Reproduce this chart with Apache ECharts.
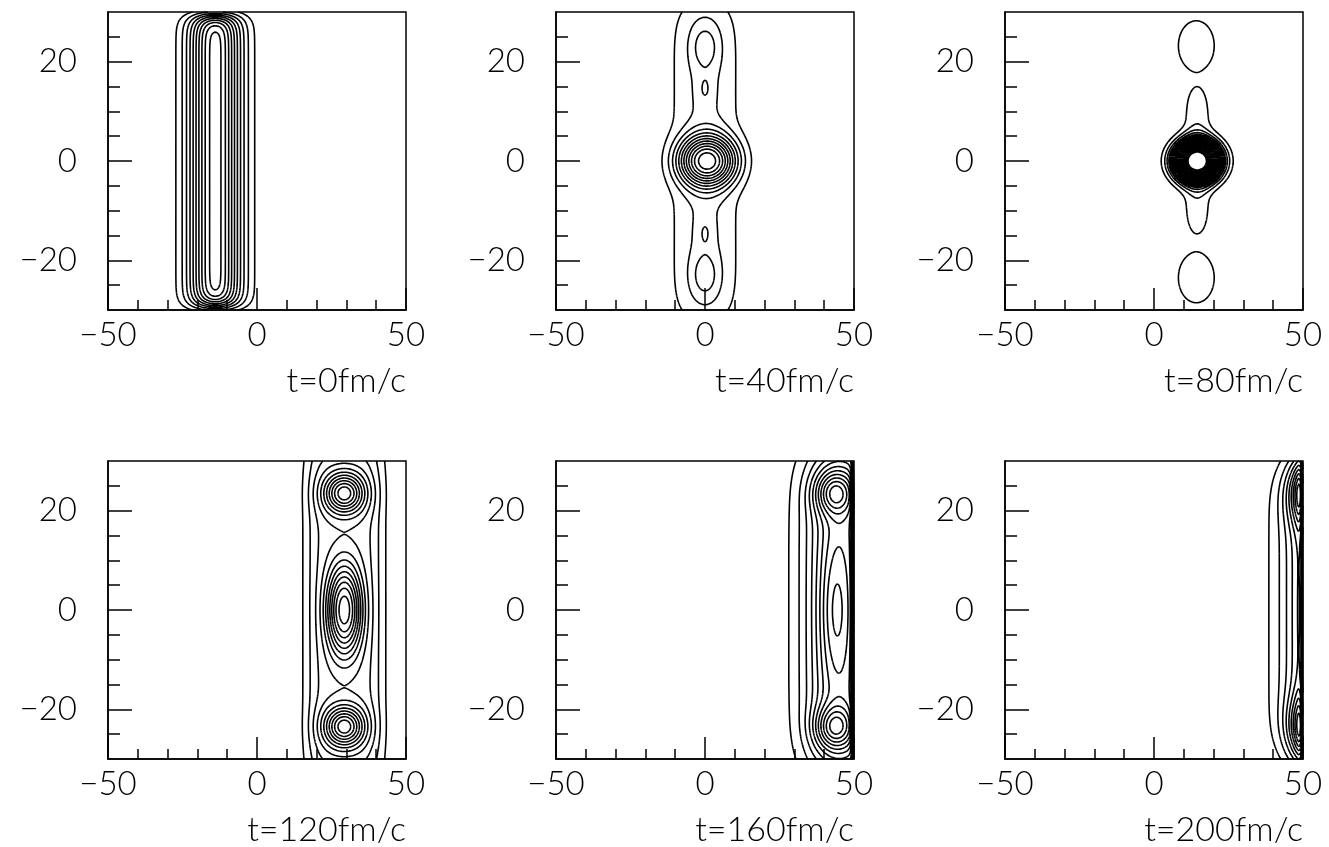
<!DOCTYPE html>
<html>
<head>
<meta charset="utf-8">
<title>Density contours</title>
<script src="https://cdn.jsdelivr.net/npm/echarts@6/dist/echarts.min.js"></script>
<style>
  html, body { margin: 0; padding: 0; background: #fff; }
  #chart { width: 1329px; height: 847px; }
</style>
</head>
<body>
<div id="chart"></div>
<script>
// Snapshot times (fm/c), one panel each
const times = [0, 40, 80, 120, 160, 200];
const panelTitles = times.map(t => 't=' + t + 'fm/c');

// Axis ranges and tick values (fm)
const xRange = [-50, 50];
const yRange = [-30, 30];
const xLabelStep = 50;
const yMajorTicks = [-20, 0, 20];
const yMinorTicks = [-25, -15, -10, -5, 5, 10, 15, 25];

// Contour levels of the density (arbitrary units)
const levels = [1, 2, 3, 4, 5, 6, 7, 8, 9, 10, 11, 12, 13, 14, 15, 16, 17, 18, 19, 20, 21, 22];

// Density components for each snapshot: [x0, y0, sx, sy, px, py, amplitude]
// equal exponents give elliptical shells, unequal ones a slab-like product profile
const blobs0 = [
  [-14, 0, 6.1, 28.6, 2, 24, 10.5]
];
const blobs40 = [
  [0, 0, 8.2, 31, 2, 10, 2.2],
  [0, 23, 3.3, 3.2, 2, 2, 1.6],
  [0, -23, 3.3, 3.2, 2, 2, 1.6],
  [0, 14.4, 1.8, 2.2, 2, 2, 0.9],
  [0, -14.4, 1.8, 2.2, 2, 2, 0.9],
  [0.8, 0, 7.0, 3.7, 2.3, 2.3, 10.6]
];
const blobs80 = [
  [14.5, 0, 5.6, 3.0, 2.4, 2.4, 23.5],
  [14.5, 0, 3.5, 13, 2, 6, 1.75],
  [14.2, 23.2, 6.2, 5.2, 2, 2, 1.6],
  [14.2, -23.5, 6.2, 5.2, 2, 2, 1.6]
];
const blobs120 = [
  [29.3, 0, 11, 34, 4, 10, 3.6],
  [29.3, 0, 4.2, 6.6, 2.3, 2.3, 9],
  [29.3, 23.5, 4.6, 2.8, 2, 2, 8.3],
  [29.3, -23.5, 4.6, 2.8, 2, 2, 8.3]
];
const blobs160 = [
  [46, 0, 9, 30, 2, 6, 7.2],
  [43.5, 0, 3.6, 9.5, 2, 2, 2.3],
  [43.5, 23.7, 4.5, 3.0, 2, 2, 5.5],
  [43.5, -23.7, 4.5, 3.0, 2, 2, 5.5]
];
const blobs200 = [
  [60, 0, 10, 26, 2, 6, 10],
  [57.5, 0, 4, 9, 2, 2, 2],
  [56, 24, 5.5, 4.5, 2, 2, 16],
  [56, -24, 5.5, 4.5, 2, 2, 16]
];
const panelBlobs = [blobs0, blobs40, blobs80, blobs120, blobs160, blobs200];

// Edge of the computational box (fm) and its skin thickness
const boxEdge = 49.6;
const boxSkin = 0.35;

// Panel placement (px)
const colLeft = [108, 556, 1005];
const rowTop = [12, 461];
const panelW = 298;
const panelH = 298;
const titleCenterY = [381, 830];

function density(blobs, x, y) {
  let s = 0;
  for (const [x0, y0, sx, sy, px, py, a] of blobs) {
    const u = Math.abs(x - x0) / sx;
    const v = Math.abs(y - y0) / sy;
    const e = px === py ? Math.pow(u * u + v * v, px / 2) : Math.pow(u, px) + Math.pow(v, py);
    s += a * Math.exp(-0.5 * e);
  }
  return s / (1 + Math.exp((x - boxEdge) / boxSkin));
}

// Marching squares: returns contour segments in data coordinates
const SEGMENTS = {
  1: [[3, 0]], 2: [[0, 1]], 3: [[3, 1]], 4: [[1, 2]], 6: [[0, 2]], 7: [[3, 2]],
  8: [[2, 3]], 9: [[0, 2]], 11: [[1, 2]], 12: [[3, 1]], 13: [[0, 1]], 14: [[3, 0]]
};
function contourSegments(blobs) {
  const nx = 250, ny = 200;
  const hx = (xRange[1] - xRange[0]) / nx;
  const hy = (yRange[1] - yRange[0]) / ny;
  const w = nx + 1;
  const v = new Float64Array(w * (ny + 1));
  for (let j = 0; j <= ny; j++) {
    for (let i = 0; i <= nx; i++) {
      v[j * w + i] = density(blobs, xRange[0] + i * hx, yRange[0] + j * hy);
    }
  }
  const segs = [];
  for (const L of levels) {
    for (let j = 0; j < ny; j++) {
      for (let i = 0; i < nx; i++) {
        const a = v[j * w + i], b = v[j * w + i + 1];
        const c = v[(j + 1) * w + i + 1], d = v[(j + 1) * w + i];
        const idx = (a >= L ? 1 : 0) | (b >= L ? 2 : 0) | (c >= L ? 4 : 0) | (d >= L ? 8 : 0);
        if (idx === 0 || idx === 15) continue;
        const xl = xRange[0] + i * hx, yb = yRange[0] + j * hy;
        const pt = (e) => {
          switch (e) {
            case 0: return [xl + hx * (L - a) / (b - a), yb];
            case 1: return [xl + hx, yb + hy * (L - b) / (c - b)];
            case 2: return [xl + hx * (L - d) / (c - d), yb + hy];
            default: return [xl, yb + hy * (L - a) / (d - a)];
          }
        };
        let pairs;
        if (idx === 5 || idx === 10) {
          const up = (a + b + c + d) / 4 >= L;
          if (idx === 5) pairs = up ? [[0, 1], [2, 3]] : [[3, 0], [1, 2]];
          else pairs = up ? [[3, 0], [1, 2]] : [[0, 1], [2, 3]];
        } else {
          pairs = SEGMENTS[idx];
        }
        for (const [p, q] of pairs) segs.push({ coords: [pt(p), pt(q)] });
      }
    }
  }
  return segs;
}

const minus = (val) => (val < 0 ? '\u2212' + (-val) : String(val));
const labelFont = { color: '#000', fontFamily: 'Lato', fontWeight: 300, fontSize: 33 };
const ink = { color: '#000', width: 1.5 };

const grids = [], xAxes = [], yAxes = [], series = [], graphics = [];
times.forEach((t, i) => {
  const left = colLeft[i % 3];
  const top = rowTop[Math.floor(i / 3)];
  grids.push({
    left: left, top: top, width: panelW, height: panelH,
    show: true, borderColor: '#000', borderWidth: 1.5, backgroundColor: 'transparent'
  });
  xAxes.push({
    gridIndex: i, type: 'value', min: xRange[0], max: xRange[1], interval: xLabelStep,
    position: 'bottom',
    axisLine: { show: true, onZero: false, lineStyle: ink },
    axisTick: { show: true, inside: true, length: 22, lineStyle: ink },
    minorTick: { show: true, splitNumber: 5, length: 10, lineStyle: ink },
    splitLine: { show: false }, minorSplitLine: { show: false },
    axisLabel: Object.assign({ margin: 9, formatter: minus }, labelFont)
  });
  yAxes.push({
    gridIndex: i, type: 'value', min: yRange[0], max: yRange[1], interval: 10,
    position: 'left',
    axisLine: { show: true, onZero: false, lineStyle: ink },
    axisTick: { show: true, inside: true, length: 24, lineStyle: ink, customValues: yMajorTicks },
    splitLine: { show: false },
    axisLabel: Object.assign({ margin: 31, formatter: minus, customValues: yMajorTicks }, labelFont)
  });
  yAxes.push({
    gridIndex: i, type: 'value', min: yRange[0], max: yRange[1], interval: 10,
    position: 'left', offset: 0,
    axisLine: { show: false, onZero: false },
    axisTick: { show: true, inside: true, length: 12, lineStyle: ink, customValues: yMinorTicks },
    splitLine: { show: false },
    axisLabel: { show: false }
  });
  series.push({
    type: 'lines', coordinateSystem: 'cartesian2d',
    xAxisIndex: i, yAxisIndex: 2 * i,
    polyline: false, large: true, largeThreshold: 50, silent: true,
    lineStyle: { color: '#000', width: 1.6, opacity: 1 },
    data: contourSegments(panelBlobs[i])
  });
  graphics.push({
    type: 'text', x: left + panelW, y: titleCenterY[Math.floor(i / 3)],
    style: {
      text: panelTitles[i], fill: '#000',
      font: '300 34px Lato', align: 'right', verticalAlign: 'middle',
      textAlign: 'right', textVerticalAlign: 'middle'
    }
  });
});

const chart = echarts.init(document.getElementById('chart'), null, { renderer: 'canvas' });
chart.setOption({
  animation: false,
  backgroundColor: '#fff',
  grid: grids,
  xAxis: xAxes,
  yAxis: yAxes,
  series: series,
  graphic: graphics
});
</script>
</body>
</html>
